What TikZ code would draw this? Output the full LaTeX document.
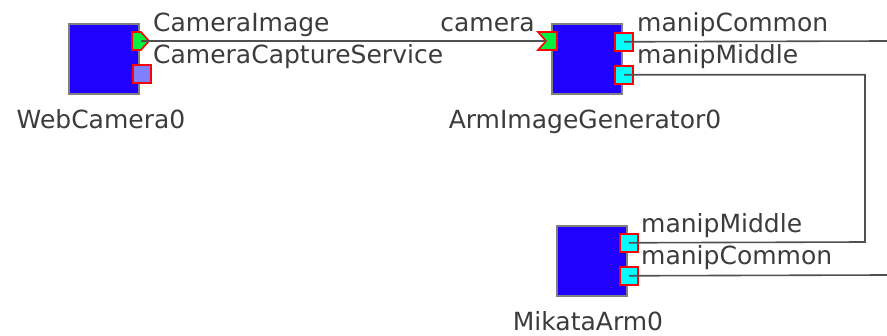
\documentclass[tikz,border=0pt]{standalone}
\usepackage{fontspec}
\setmainfont{DejaVu Sans}
\begin{document}
\begin{tikzpicture}[x=1pt,y=-1pt,
  comp/.style={draw=boxgray,line width=1.6pt,fill=compblue,minimum width=70pt,minimum height=70pt,inner sep=0pt,anchor=north west},
  sqport/.style={draw=red,line width=1.6pt,inner sep=0pt,minimum width=18pt,minimum height=18pt,anchor=north west},
  dport/.style={draw=red,line width=1.6pt,fill=portgreen},
  wire/.style={draw=wiregray,line width=1.6pt},
  lbl/.style={font=\fontsize{25}{28}\selectfont,text=txtgray,inner sep=0pt},
]
\definecolor{compblue}{HTML}{2000FF}
\definecolor{boxgray}{HTML}{808080}
\definecolor{portgreen}{HTML}{00F040}
\definecolor{portcyan}{HTML}{00FFFF}
\definecolor{portviolet}{HTML}{8080FF}
\definecolor{wiregray}{HTML}{505050}
\definecolor{txtgray}{HTML}{3C3C3C}
\useasboundingbox[fill=white] (0,0) rectangle (887,336);

% components
\node[comp] (wc) at (68,23) {};
\node[comp] (aig) at (551,23) {};
\node[comp] (ma) at (556,225) {};

% WebCamera0 ports
\draw[dport] (132,32) -- (141,32) -- (149,41) -- (141,50) -- (132,50) -- cycle;
\coordinate (wcout) at (141,41);
\node[sqport,fill=portviolet] (wcsvc) at (132,64) {};

% ArmImageGenerator0 ports
\draw[dport] (538,32) -- (557,32) -- (557,50) -- (538,50) -- (546,41) -- cycle;
\coordinate (aigin) at (546,41);
\node[sqport,fill=portcyan] (aigc) at (614,32) {};
\node[sqport,fill=portcyan] (aigm) at (614,65) {};

% MikataArm0 ports
\node[sqport,fill=portcyan] (mam) at (619,233) {};
\node[sqport,fill=portcyan] (mac) at (619,266) {};

% free ends / bends
\coordinate (e1) at (887,41);
\coordinate (e2) at (887,275);
\coordinate (bend) at (865,242);

% wires
\draw[wire] (wcout) -- (aigin);
\draw[wire] (aigc.center) -- (e1);
\draw[wire] (aigm.center) -| (bend) -- (mam.center);
\draw[wire] (mac.center) -- (e2);

% labels
\node[lbl,anchor=base west] (l1) at (153,32) {CameraImage};
\node[lbl,anchor=base west] (l2) at (153,64) {CameraCaptureService};
\node[lbl,anchor=base east] (l3) at (535,32) {camera};
\node[lbl,anchor=base west] (l4) at (637,32) {manipCommon};
\node[lbl,anchor=base west] (l5) at (637,64) {manipMiddle};
\node[lbl,anchor=base west] (l6) at (641,233) {manipMiddle};
\node[lbl,anchor=base west] (l7) at (641,265) {manipCommon};
\node[lbl,anchor=base] (n1) at (101,129) {WebCamera0};
\node[lbl,anchor=base] (n2) at (585,129) {ArmImageGenerator0};
\node[lbl,anchor=base] (n3) at (588,331) {MikataArm0};
\end{tikzpicture}
\end{document}
